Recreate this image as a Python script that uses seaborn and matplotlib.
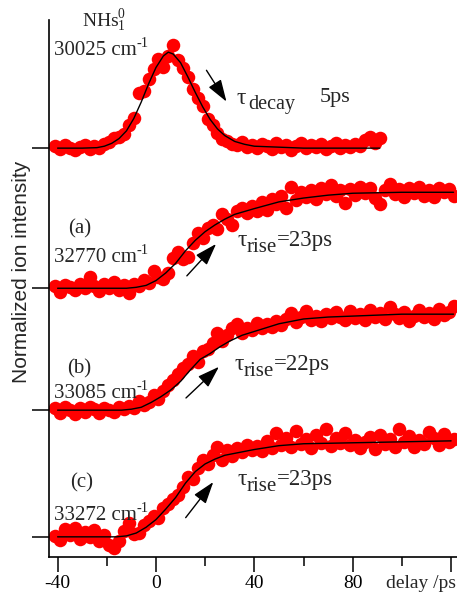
import numpy as np
import pandas as pd
import seaborn as sns
import matplotlib.pyplot as plt

sns.set_style('ticks')
plt.rcParams['font.family'] = ['Liberation Serif', 'DejaVu Serif']
plt.rcParams['mathtext.fontset'] = 'custom'
plt.rcParams['mathtext.rm'] = 'Liberation Serif'
plt.rcParams['mathtext.it'] = 'Liberation Serif:italic'

# delay grids (ps)
t_top = np.arange(-41, 92, 2)
t_rise = np.arange(-41, 122, 2)

# normalized ion signal
nhs_dots = [0.02, -0.01, 0.03, 0.00, -0.02, 0.01, 0.03, -0.01, 0.02, 0.00,
            0.04, 0.06, 0.11, 0.12, 0.15, 0.24, 0.31, 0.57, 0.60, 0.72,
            0.82, 0.93, 0.85, 0.96, 1.07, 0.92, 0.84, 0.74, 0.62, 0.52,
            0.44, 0.30, 0.24, 0.16, 0.10, 0.07, 0.04, 0.03, 0.06, 0.01,
            0.03, 0.00, 0.04, 0.02, -0.01, 0.05, 0.01, 0.03, -0.02, 0.02,
            0.05, 0.00, 0.03, 0.01, 0.04, -0.01, 0.02, 0.05, 0.00, 0.03,
            0.01, 0.04, 0.02, 0.08, 0.12, 0.05, 0.11]
a_dots = [0.02, -0.04, 0.03, 0.01, -0.02, 0.04, 0.00, 0.12, 0.02, -0.03,
          0.04, 0.00, 0.07, -0.02, 0.03, -0.05, 0.04, 0.02, 0.09, 0.06,
          0.18, 0.12, 0.10, 0.16, 0.32, 0.38, 0.30, 0.33, 0.47, 0.58,
          0.52, 0.63, 0.66, 0.62, 0.77, 0.72, 0.66, 0.80, 0.84, 0.78,
          0.86, 0.80, 0.90, 0.82, 0.93, 0.88, 0.96, 0.84, 1.06, 0.92,
          1.00, 0.95, 1.02, 0.93, 1.04, 0.98, 1.08, 0.96, 1.02, 0.89,
          1.03, 0.97, 1.05, 0.99, 1.04, 0.94, 0.88, 1.02, 1.09, 0.98,
          1.03, 0.95, 1.04, 0.99, 1.06, 0.96, 1.02, 0.95, 1.04, 1.00,
          1.03, 0.96]
b_dots = [0.02, -0.03, 0.03, 0.00, -0.04, 0.02, -0.02, 0.03, 0.01, -0.03,
          0.02, 0.00, -0.02, 0.03, 0.01, 0.04, 0.02, 0.10, 0.05, 0.08,
          0.16, 0.12, 0.20, 0.26, 0.31, 0.38, 0.44, 0.48, 0.56, 0.50,
          0.62, 0.64, 0.70, 0.80, 0.72, 0.78, 0.86, 0.90, 0.80, 0.86,
          0.83, 0.91, 0.86, 0.90, 0.87, 0.93, 0.89, 0.95, 1.01, 0.92,
          0.97, 1.03, 0.94, 0.98, 0.93, 1.00, 0.96, 1.02, 0.97, 0.94,
          1.03, 0.96, 1.00, 0.94, 1.04, 0.97, 1.01, 0.95, 1.07, 1.00,
          0.96, 1.02, 0.93, 0.98, 1.04, 0.97, 1.01, 0.95, 1.05, 0.99,
          1.02, 1.09]
c_dots = [0.01, -0.03, 0.08, 0.02, 0.09, -0.02, 0.05, 0.00, 0.07, -0.04,
          0.02, -0.08, -0.12, -0.04, 0.06, 0.14, 0.03, 0.04, 0.12, 0.17,
          0.22, 0.20, 0.30, 0.34, 0.39, 0.44, 0.52, 0.62, 0.60, 0.72,
          0.80, 0.76, 0.85, 0.94, 0.80, 0.90, 0.84, 0.93, 0.88, 0.96,
          0.90, 0.95, 0.89, 1.00, 0.93, 1.08, 0.96, 1.03, 0.94, 1.10,
          0.97, 1.02, 0.93, 1.06, 0.98, 1.12, 0.95, 1.03, 0.98, 1.08,
          0.96, 1.01, 0.93, 0.99, 1.04, 0.92, 1.06, 0.97, 1.02, 0.94,
          1.12, 0.99, 1.05, 0.94, 1.01, 0.97, 1.09, 1.03, 0.96, 1.07,
          0.99, 1.02]

# fitted curves
fit_top_t = [-40, -30, -24, -21, -18, -15, -12, -9, -6, -3, 0, 3, 5, 7, 10,
             13, 16, 19, 22, 25, 28, 32, 36, 40, 50, 60, 91]
fit_top = [0, 0, 0.005, 0.02, 0.05, 0.10, 0.18, 0.31, 0.48, 0.67, 0.84, 0.96,
           1.0, 0.98, 0.89, 0.74, 0.58, 0.43, 0.30, 0.20, 0.13, 0.07, 0.04,
           0.02, 0.01, 0.0, 0.0]
fit_a_t = [-40, -12, -8, -4, 0, 4, 8, 12, 16, 20, 24, 28, 32, 36, 40, 50, 60,
           70, 80, 100, 121]
fit_a = [0, 0, 0.01, 0.03, 0.08, 0.16, 0.26, 0.39, 0.50, 0.59, 0.66, 0.72,
         0.77, 0.80, 0.83, 0.90, 0.94, 0.97, 0.99, 1.0, 1.0]
fit_b_t = [-40, -14, -10, -6, -2, 2, 6, 10, 14, 18, 22, 26, 30, 35, 40, 50, 60,
           70, 80, 100, 121]
fit_b = [0, 0, 0.01, 0.03, 0.08, 0.14, 0.21, 0.30, 0.42, 0.53, 0.59, 0.66,
         0.72, 0.78, 0.82, 0.90, 0.95, 0.97, 0.98, 1.0, 1.0]
fit_c_t = [-40, -16, -12, -8, -4, 0, 4, 8, 12, 16, 20, 24, 28, 32, 36, 40, 50,
           60, 80, 100, 120]
fit_c = [0, 0, 0.01, 0.04, 0.10, 0.18, 0.29, 0.41, 0.56, 0.68, 0.76, 0.81,
         0.85, 0.87, 0.89, 0.91, 0.95, 0.97, 0.98, 0.99, 1.0]

offsets = [4.05, 2.59, 1.32, 0.0]
traces = [(t_top, nhs_dots, fit_top_t, fit_top),
          (t_rise, a_dots, fit_a_t, fit_a),
          (t_rise, b_dots, fit_b_t, fit_b),
          (t_rise, c_dots, fit_c_t, fit_c)]

fig = plt.figure(figsize=(4.57, 5.94), dpi=100)
ax = fig.add_axes([49 / 457, 37 / 594, 408 / 457, 537 / 594])

for (t, dots, ft, fv), off in zip(traces, offsets):
    d = pd.DataFrame({'delay': t, 'signal': np.array(dots) + off})
    f = pd.DataFrame({'delay': ft, 'signal': np.array(fv) + off})
    sns.scatterplot(data=d, x='delay', y='signal', color='#ff0000', s=95,
                    linewidth=0, ax=ax, zorder=2)
    sns.lineplot(data=f, x='delay', y='signal', color='black', lw=1.0,
                 estimator=None, sort=False, ax=ax, zorder=3)

ax.set_xlim(-43.5, 122.4)
ax.set_ylim(-0.21, 5.385)
sns.despine(ax=ax)
for s in ['left', 'bottom']:
    ax.spines[s].set_linewidth(1.2)
    ax.spines[s].set_color('black')

ax.set_xticks([-40, 0, 40, 80, 120])
ax.set_xticklabels(['-40', '0', '40', '80', ''], fontsize=14)
ax.set_xticks([-20, 20, 60, 100], minor=True)
ax.tick_params(axis='x', which='major', direction='out', length=11, width=1.1,
               pad=2, colors='black')
ax.tick_params(axis='x', which='minor', direction='out', length=6.5, width=1.1,
               colors='black')
ax.set_yticks(offsets)
ax.set_yticklabels([])
ax.tick_params(axis='y', direction='out', length=12, width=1.1, colors='black')
ax.set_xlabel('')
ax.set_ylabel('')


def px(x, y):
    # position in the picture -> data coords
    return (x - 156) / 2.46, (537 - y) / 96


ax.text(*px(82, 27), r'NH$\mathrm{s}_{1}^{0}$', fontsize=14, va='baseline')
labels = [('30025', 55), ('32770', 262), ('33085', 398), ('33272', 520)]
for lab, yb in labels:
    ax.text(*px(54, yb), lab + ' cm', fontsize=15, va='baseline')
    ax.text(*px(137, yb - 8), '-1', fontsize=10.5, va='baseline')
for lab, x, yb in [('(a)', 68, 234), ('(b)', 67, 374), ('(c)', 70, 488)]:
    ax.text(*px(x, yb), lab, fontsize=15, va='baseline')

ax.text(*px(237, 104), 'τ', fontsize=17, va='baseline')
ax.text(*px(248, 109), 'decay', fontsize=14.5, va='baseline')
ax.text(*px(320, 102), '5ps', fontsize=16, va='baseline')
for xt, yb, val in [(238, 246, '=23ps'), (235, 370, '=22ps'), (238, 485, '=23ps')]:
    ax.text(*px(xt, yb), 'τ', fontsize=17, va='baseline')
    ax.text(*px(xt + 9, yb + 6), 'rise', fontsize=15, va='baseline')
    ax.text(*px(xt + 39, yb), val, fontsize=16.5, va='baseline')

arrows = [((205, 68), (228, 104)), ((185, 278), (218, 242)),
          ((184, 400), (221, 365)), ((184, 520), (215, 480))]
for tail, tip in arrows:
    ax.annotate('', xy=px(*tip), xytext=px(*tail),
                arrowprops=dict(arrowstyle='-|>,head_length=0.9,head_width=0.3',
                                color='black', lw=1.0, mutation_scale=15))

fig.text(456 / 457, (594 - 588) / 594, 'delay /ps', fontsize=14,
         ha='right', va='baseline')
fig.text(22 / 457, (594 - 272) / 594, 'Normalized ion intensity',
         family=['Liberation Sans', 'DejaVu Sans'], fontsize=15,
         rotation=90, ha='center', va='center')

fig.savefig('out.png', dpi=100)
